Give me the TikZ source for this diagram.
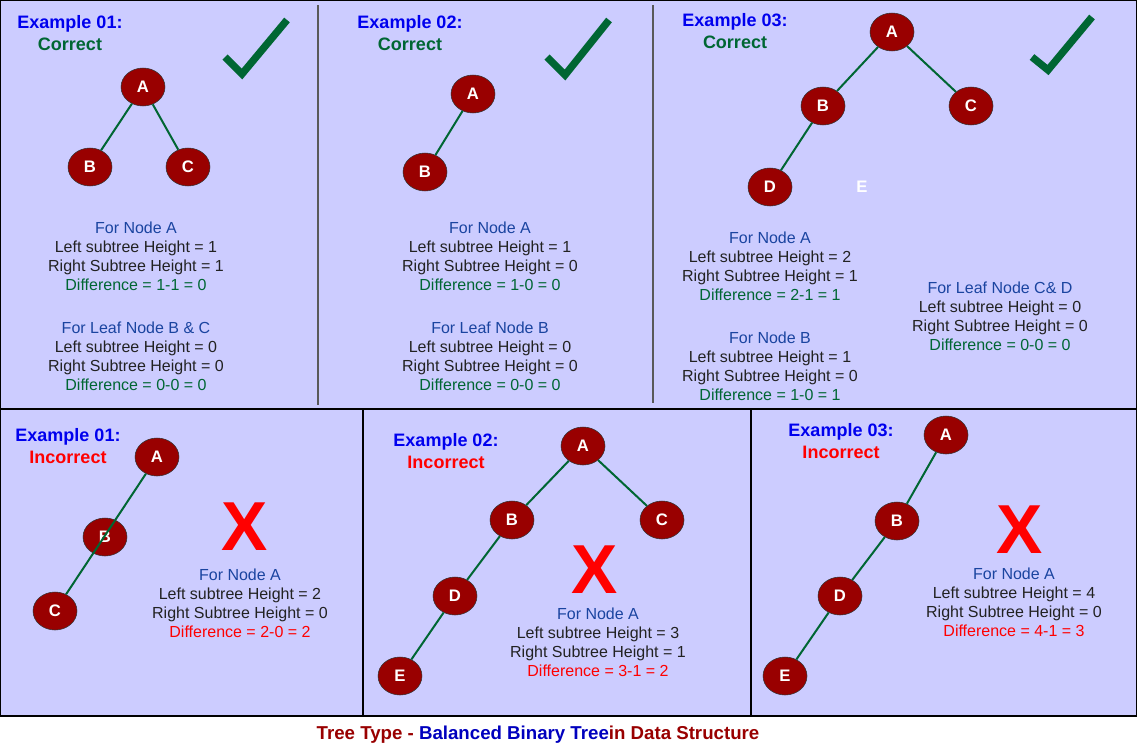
\documentclass[tikz,border=0pt]{standalone}
\usepackage{fontspec}
\setmainfont{Liberation Sans}
\usetikzlibrary{shapes.geometric}
\definecolor{bg}{HTML}{CCCCFF}
\definecolor{nred}{HTML}{990000}
\definecolor{egreen}{HTML}{006633}
\definecolor{hblue}{HTML}{0000EE}
\definecolor{tblue}{HTML}{1A44A0}
\definecolor{txt}{HTML}{222222}
\begin{document}
\begin{tikzpicture}[x=0.75pt,y=-0.75pt,
  tn/.style={ellipse,draw=black!80,fill=nred,text=white,font=\bfseries\fontsize{12.5}{13}\selectfont,minimum width=33pt,minimum height=28.5pt,inner sep=0pt},
  edge/.style={draw=egreen,line width=1.5pt},
  hdr/.style={font=\bfseries\fontsize{13.5}{16}\selectfont,align=center,inner sep=0pt},
  body/.style={font=\fontsize{12}{14.25}\selectfont,align=center,inner sep=0pt,text=txt},
  chk/.style={draw=egreen,line width=5.5pt},
  bigx/.style={font=\bfseries\fontsize{52}{52}\selectfont,text=red,inner sep=0pt}]
\useasboundingbox (0,0) rectangle (1137,746);
\fill[white] (0,0) rectangle (1137,746);
\fill[bg] (0,0) rectangle (1137,716);
\draw[black,line width=1pt] (0,0) rectangle (1137,716);
\draw[black,line width=1pt] (0,409) -- (1137,409);
\draw[gray!70!black,line width=1pt] (318,5) -- (318,405);
\draw[gray!70!black,line width=1pt] (653,5) -- (653,403);
\draw[black,line width=1pt] (363,409) -- (363,716);
\draw[black,line width=1pt] (751,409) -- (751,716);

% ---- top ex1
\node[hdr] (h1) at (70,33) {\textcolor{hblue}{Example 01:}\\\textcolor{egreen}{Correct}};
\draw[chk] (225,57) -- (242,74) -- (287,20);
\node[tn] (a1) at (143,87) {A};
\node[tn] (b1) at (90,167) {B};
\node[tn] (c1) at (188,167) {C};
\draw[edge] (a1) -- (b1); \draw[edge] (a1) -- (c1);
\node[body] (t1) at (136,256) {\textcolor{tblue}{For Node A}\\Left subtree Height = 1\\Right Subtree Height = 1\\\textcolor{egreen}{Difference = 1-1 = 0}};
\node[body] (t1b) at (136,356) {\textcolor{tblue}{For Leaf Node B \& C}\\Left subtree Height = 0\\Right Subtree Height = 0\\\textcolor{egreen}{Difference = 0-0 = 0}};

% ---- top ex2
\node[hdr] (h2) at (410,33) {\textcolor{hblue}{Example 02:}\\\textcolor{egreen}{Correct}};
\draw[chk] (547,57) -- (565,75) -- (609,20);
\node[tn] (a2) at (473,94) {A};
\node[tn] (b2) at (425,172) {B};
\draw[edge] (a2) -- (b2);
\node[body] (t2) at (490,256) {\textcolor{tblue}{For Node A}\\Left subtree Height = 1\\Right Subtree Height = 0\\\textcolor{egreen}{Difference = 1-0 = 0}};
\node[body] (t2b) at (490,356) {\textcolor{tblue}{For Leaf Node B}\\Left subtree Height = 0\\Right Subtree Height = 0\\\textcolor{egreen}{Difference = 0-0 = 0}};

% ---- top ex3
\node[hdr] (h3) at (735,31) {\textcolor{hblue}{Example 03:}\\\textcolor{egreen}{Correct}};
\draw[chk] (1032,57) -- (1048,70) -- (1092,17);
\node[tn] (a3) at (892,32) {A};
\node[tn] (b3) at (823,106) {B};
\node[tn] (c3) at (971,106) {C};
\node[tn] (d3) at (770,187) {D};
\node[text=white,font=\bfseries\fontsize{12.5}{13}\selectfont] (e3) at (862,187) {E};
\draw[edge] (a3) -- (b3); \draw[edge] (a3) -- (c3); \draw[edge] (b3) -- (d3);
\node[body] (t3) at (770,266) {\textcolor{tblue}{For Node A}\\Left subtree Height = 2\\Right Subtree Height = 1\\\textcolor{egreen}{Difference = 2-1 = 1}};
\node[body] (t3b) at (770,366) {\textcolor{tblue}{For Node B}\\Left subtree Height = 1\\Right Subtree Height = 0\\\textcolor{egreen}{Difference = 1-0 = 1}};
\node[body] (t3c) at (1000,316) {\textcolor{tblue}{For Leaf Node C\& D}\\Left subtree Height = 0\\Right Subtree Height = 0\\\textcolor{egreen}{Difference = 0-0 = 0}};

% ---- bottom ex1
\node[hdr] (h4) at (68,446) {\textcolor{hblue}{Example 01:}\\\textcolor{red}{Incorrect}};
\node[tn] (a4) at (157,457) {A};
\node[tn] (b4) at (105,537) {B};
\node[tn] (c4) at (55,611) {C};
\draw[edge] (a4) -- (c4);
\node[bigx] (x4) at (245,527) {X};
\node[body] (t4) at (240,603) {\textcolor{tblue}{For Node A}\\Left subtree Height = 2\\Right Subtree Height = 0\\\textcolor{red}{Difference = 2-0 = 2}};

% ---- bottom ex2
\node[hdr] (h5) at (446,451) {\textcolor{hblue}{Example 02:}\\\textcolor{red}{Incorrect}};
\node[tn] (a5) at (583,446) {A};
\node[tn] (b5) at (512,520) {B};
\node[tn] (c5) at (662,520) {C};
\node[tn] (d5) at (455,596) {D};
\node[tn] (e5) at (400,676) {E};
\draw[edge] (a5) -- (b5); \draw[edge] (a5) -- (c5); \draw[edge] (b5) -- (d5); \draw[edge] (d5) -- (e5);
\node[bigx] (x5) at (595,570) {X};
\node[body] (t5) at (598,642) {\textcolor{tblue}{For Node A}\\Left subtree Height = 3\\Right Subtree Height = 1\\\textcolor{red}{Difference = 3-1 = 2}};

% ---- bottom ex3
\node[hdr] (h6) at (841,441) {\textcolor{hblue}{Example 03:}\\\textcolor{red}{Incorrect}};
\node[tn] (a6) at (946,435) {A};
\node[tn] (b6) at (897,521) {B};
\node[tn] (d6) at (840,596) {D};
\node[tn] (e6) at (785,676) {E};
\draw[edge] (a6) -- (b6); \draw[edge] (b6) -- (d6); \draw[edge] (d6) -- (e6);
\node[bigx] (x6) at (1020,530) {X};
\node[body] (t6) at (1014,602) {\textcolor{tblue}{For Node A}\\Left subtree Height = 4\\Right Subtree Height = 0\\\textcolor{red}{Difference = 4-1 = 3}};

% ---- title
\node[font=\bfseries\fontsize{14}{16}\selectfont,inner sep=0pt] (title) at (538,735) {\textcolor{nred}{Tree Type - }\textcolor{hblue!80!black}{Balanced Binary Tree}\textcolor{nred}{ in Data Structure}};
\end{tikzpicture}
\end{document}
